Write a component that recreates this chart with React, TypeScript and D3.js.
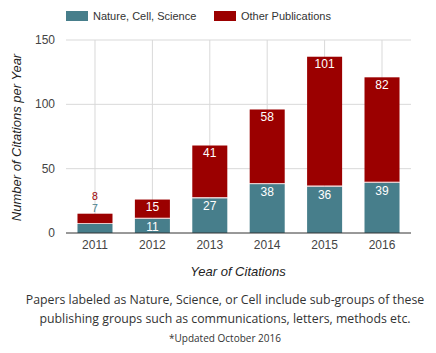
import React, { useEffect, useRef } from 'react';
import * as d3 from 'd3';

const years = ['2011', '2012', '2013', '2014', '2015', '2016'];
const natureCellScience = [7, 11, 27, 38, 36, 39];
const otherPublications = [8, 15, 41, 58, 101, 82];
const yTicks = [0, 50, 100, 150];
const seriesNames = ['Nature, Cell, Science', 'Other Publications'];
const footerLines = [
  'Papers labeled as Nature, Science, or Cell include sub-groups of these',
  'publishing groups such as communications, letters, methods etc.',
  '*Updated October 2016',
];

const TEAL = '#477e8b';
const RED = '#9b0000';

const App = () => {
  const svgRef = useRef<SVGSVGElement>(null);

  useEffect(() => {
    const svg = d3.select(svgRef.current);
    svg.selectAll('*').remove();
    const width = 436;
    const height = 353;
    const left = 66;
    const right = 411;
    const top = 40;
    const bottom = 233;
    const font = 'Arial, "Liberation Sans", sans-serif';

    svg.attr('width', width).attr('height', height);

    const x = d3.scaleBand().domain(years).range([left, right]).paddingInner(0.39).paddingOuter(0.2);
    const y = d3.scaleLinear().domain([0, 150]).range([bottom, top]);

    // grid
    const grid = svg.append('g');
    grid.selectAll('line.h')
      .data(yTicks.filter(t => t > 0))
      .join('line')
      .attr('x1', left).attr('x2', right)
      .attr('y1', d => y(d)).attr('y2', d => y(d))
      .attr('stroke', '#d9d9d9');
    grid.selectAll('line.v')
      .data(years)
      .join('line')
      .attr('x1', d => x(d)! + x.bandwidth() / 2)
      .attr('x2', d => x(d)! + x.bandwidth() / 2)
      .attr('y1', top).attr('y2', bottom)
      .attr('stroke', '#d9d9d9');

    // y tick labels
    svg.append('g')
      .selectAll('text')
      .data(yTicks)
      .join('text')
      .attr('x', 55)
      .attr('y', d => y(d) + 4)
      .attr('text-anchor', 'end')
      .style('font-family', font)
      .style('font-size', '12px')
      .style('fill', '#444')
      .text(d => d);

    // bars
    const bars = svg.append('g');
    years.forEach((yr, i) => {
      const a = natureCellScience[i];
      const b = otherPublications[i];
      const bx = x(yr)!;
      bars.append('rect')
        .attr('x', bx).attr('width', x.bandwidth())
        .attr('y', y(a)).attr('height', y(0) - y(a))
        .attr('fill', TEAL);
      bars.append('rect')
        .attr('x', bx).attr('width', x.bandwidth())
        .attr('y', y(a + b)).attr('height', y(a) - y(a + b) - 1)
        .attr('fill', RED);
      bars.append('rect')
        .attr('x', bx).attr('width', x.bandwidth())
        .attr('y', y(a) - 1).attr('height', 1)
        .attr('fill', '#e8c8c8');

      const cx = bx + x.bandwidth() / 2;
      const small = a + b < 20;
      const lbl = (val: number, yy: number, color: string, size: number) =>
        bars.append('text')
          .attr('x', cx).attr('y', yy)
          .attr('text-anchor', 'middle')
          .style('font-family', font)
          .style('font-size', `${size}px`)
          .style('fill', color)
          .text(val);
      if (small) {
        // label sits above a short bar
        lbl(b, y(a + b) - 14, RED, 10.5);
        lbl(a, y(a + b) - 1.5, TEAL, 10.5);
      } else {
        lbl(b, y(a + b) + 11.5, '#fff', 12);
        lbl(a, y(a) + 12, '#fff', 12);
      }
    });

    // baseline
    svg.append('line')
      .attr('x1', left).attr('x2', right)
      .attr('y1', bottom).attr('y2', bottom)
      .attr('stroke', '#333');

    // x labels
    svg.append('g')
      .selectAll('text')
      .data(years)
      .join('text')
      .attr('x', d => x(d)! + x.bandwidth() / 2)
      .attr('y', 249)
      .attr('text-anchor', 'middle')
      .style('font-family', font)
      .style('font-size', '12px')
      .style('fill', '#444')
      .text(d => d);

    // axis titles
    svg.append('text')
      .attr('x', 238).attr('y', 276)
      .attr('text-anchor', 'middle')
      .style('font-family', font)
      .style('font-size', '13px')
      .style('font-style', 'italic')
      .style('fill', '#222')
      .text('Year of Citations');
    svg.append('text')
      .attr('transform', `translate(21,${(top + bottom) / 2 + 1}) rotate(-90)`)
      .attr('text-anchor', 'middle')
      .style('font-family', font)
      .style('font-size', '13px')
      .style('font-style', 'italic')
      .style('fill', '#222')
      .text('Number of Citations per Year');

    // legend
    const legend = svg.append('g');
    const legendX = [66, 214];
    [TEAL, RED].forEach((c, i) => {
      legend.append('rect')
        .attr('x', legendX[i]).attr('y', 11)
        .attr('width', 22).attr('height', 10)
        .attr('fill', c);
      legend.append('text')
        .attr('x', legendX[i] + 27).attr('y', 20)
        .style('font-family', font)
        .style('font-size', '11px')
        .style('fill', '#333')
        .text(seriesNames[i]);
    });

    // footer
    const sizes = [12.3, 12.3, 10];
    const ys = [304, 323, 342];
    footerLines.forEach((t, i) => {
      svg.append('text')
        .attr('x', 225).attr('y', ys[i])
        .attr('text-anchor', 'middle')
        .style('font-family', '"Open Sans", sans-serif')
        .style('font-size', `${sizes[i]}px`)
        .style('fill', '#333')
        .text(t);
    });
  }, []);

  return (
    <div style={{ position: 'absolute', left: 0, top: 0 }}>
      <svg ref={svgRef}></svg>
    </div>
  );
};

export default App;
